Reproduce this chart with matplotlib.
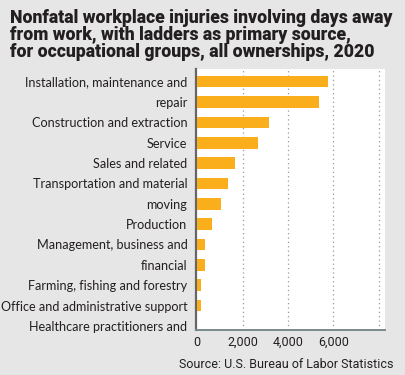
import numpy as np
import matplotlib.pyplot as plt

labels = [
    "Installation, maintenance and",
    "repair",
    "Construction and extraction",
    "Service",
    "Sales and related",
    "Transportation and material",
    "moving",
    "Production",
    "Management, business and",
    "financial",
    "Farming, fishing and forestry",
    "Office and administrative support",
    "Healthcare practitioners and",
]
values = [5750, 5360, 3170, 2670, 1660, 1340, 1060, 670, 360, 330, 170, 150, 0]
xticks = [0, 2000, 4000, 6000]
xtick_labels = ["0", "2,000", "4,000", "6,000"]

BG = "#e6e6e7"
BAR = "#fbae1c"
TXT = "#231f20"

fig = plt.figure(figsize=(4.05, 3.75), dpi=100, facecolor=BG)
ax = fig.add_axes([0.485, 0.12, 0.466, 0.696])
ax.set_facecolor("white")

y = np.arange(len(labels))
ax.barh(y, values, height=0.57, color=BAR, zorder=3)
ax.set_ylim(12.2, -0.62)
ax.set_xlim(-30, 8280)

ax.set_yticks(y)
ax.set_yticklabels(labels, fontsize=9.1, color=TXT, family="Lato")
ax.tick_params(axis="y", length=0, pad=6.5)

ax.set_xticks(xticks)
ax.set_xticklabels(xtick_labels, fontsize=9, color=TXT, family="Roboto")
ax.tick_params(axis="x", length=0, pad=4)

for gx in [2000, 4000, 6000, 8000]:
    ax.axvline(gx, color="#999999", lw=0.9, ls=(0, (1, 2.5)), zorder=1)

for s in ["top", "right"]:
    ax.spines[s].set_visible(False)
ax.spines["left"].set_color("#666666")
ax.spines["left"].set_linewidth(1.6)
ax.spines["bottom"].set_color("#7a8a8a")
ax.spines["bottom"].set_linewidth(1.4)

fig.text(0.025, 0.975,
         "Nonfatal workplace injuries involving days away\n"
         "from work, with ladders as primary source,\n"
         "for occupational groups, all ownerships, 2020",
         ha="left", va="top", fontsize=12.7, fontweight="heavy", color=TXT,
         family="Roboto", linespacing=0.92)

fig.text(0.972, 0.018, "Source: U.S. Bureau of Labor Statistics",
         ha="right", va="baseline", fontsize=9.0, color=TXT, family="Roboto")

fig.savefig("out.png", dpi=100, facecolor=BG)
